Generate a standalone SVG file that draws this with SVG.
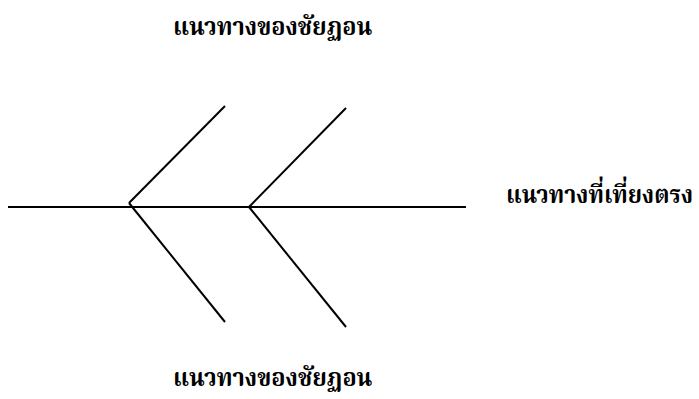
<svg xmlns="http://www.w3.org/2000/svg" width="699" height="399" viewBox="0 0 699 399">
<style>
.lbl{font-family:"Noto Serif Thai","Noto Sans Thai","Liberation Serif","DejaVu Serif",serif;font-weight:bold;font-size:25px;fill:#000}
.ln{stroke:#000;stroke-width:2;fill:none;stroke-linecap:butt}
</style>
<rect width="699" height="399" fill="#fff"/>
<g id="connectors">
<line class="ln" x1="8" y1="207" x2="466" y2="207"/>
<line class="ln" x1="129" y1="203" x2="225" y2="106"/>
<line class="ln" x1="129" y1="203" x2="225" y2="322"/>
<line class="ln" x1="249" y1="207" x2="346" y2="108"/>
<line class="ln" x1="249" y1="207" x2="346" y2="327"/>
</g>
<g id="label-top"><text class="lbl" transform="translate(173,35) scale(0.94,1)">แนวทางของชัยฏอน</text></g>
<g id="label-right"><text class="lbl" transform="translate(506,203) scale(0.92,1)">แนวทางที่เที่ยงตรง</text></g>
<g id="label-bottom"><text class="lbl" transform="translate(173,386) scale(0.94,0.96)">แนวทางของชัยฏอน</text></g>
</svg>
